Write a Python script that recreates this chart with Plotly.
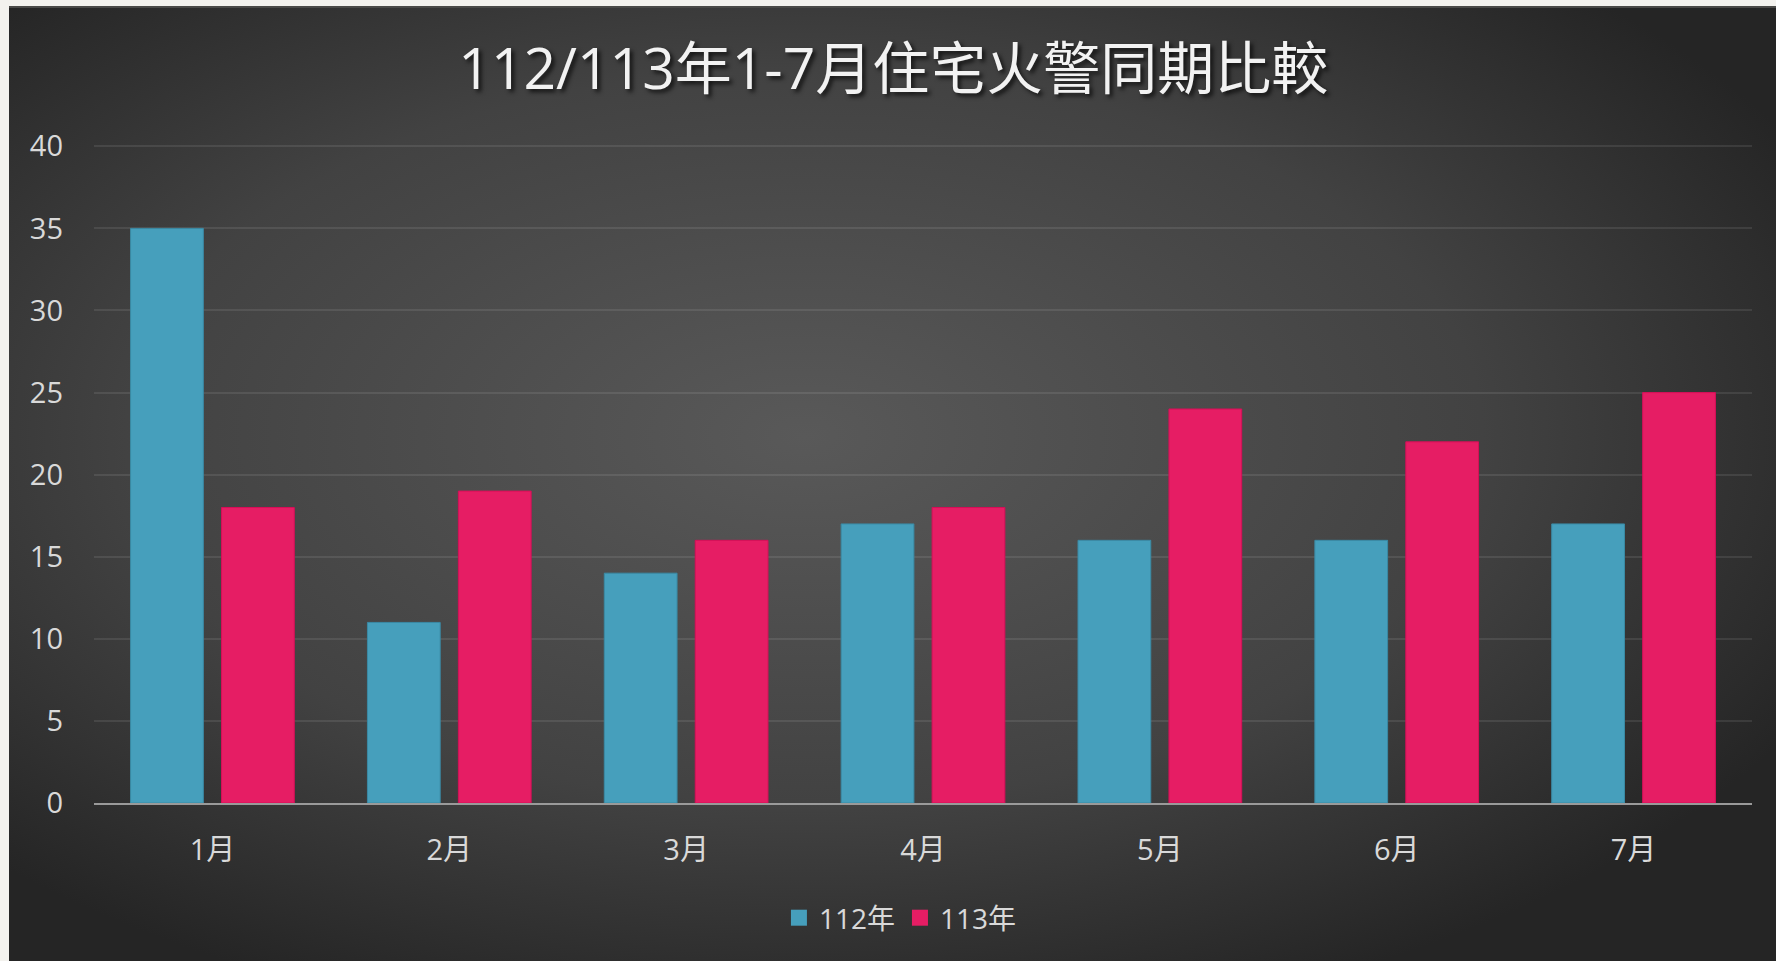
import base64
import plotly.graph_objects as go

# ---- data ----
months = ["1月", "2月", "3月", "4月", "5月", "6月", "7月"]
series_names = ["112年", "113年"]
fires_112 = [35, 11, 14, 17, 16, 16, 17]
fires_113 = [18, 19, 16, 18, 24, 22, 25]
y_ticks = [0, 5, 10, 15, 20, 25, 30, 35, 40]
title_text = "112/113年1-7月住宅火警同期比較"

# ---- styling ----
W, H = 1776, 961
ML, MR, MT, MB = 94, 24, 145, 158
plot_w = W - ML - MR
plot_h = H - MT - MB
FONT = "Open Sans, Noto Sans CJK TC, sans-serif"
TXT = "#d9d9d9"
BLUE, PINK = "#469fbc", "#e61d64"

# radial gradient background panel as an SVG image
svg = (
    '<svg xmlns="http://www.w3.org/2000/svg" width="1767" height="955" '
    'viewBox="0 0 1767 955" preserveAspectRatio="none">'
    '<defs><radialGradient id="g" cx="0.45" cy="0.45" r="0.64">'
    '<stop offset="0" stop-color="#595959"/>'
    '<stop offset="0.6" stop-color="#424242"/>'
    '<stop offset="1" stop-color="#252525"/>'
    '</radialGradient></defs>'
    '<rect x="0" y="0" width="1767" height="955" fill="url(#g)"/>'
    '<rect x="0" y="0" width="1767" height="2" fill="#4a4a48"/>'
    '</svg>'
)
svg_uri = "data:image/svg+xml;base64," + base64.b64encode(svg.encode()).decode()

panel_left, panel_top = 9, 6
img_x = (panel_left - ML) / plot_w
img_sizex = (W - panel_left) / plot_w
img_y = (H - MB - panel_top) / plot_h
img_sizey = (H - panel_top) / plot_h

fig = go.Figure()
fig.add_trace(go.Bar(
    x=months, y=fires_112, name=series_names[0], showlegend=False,
    marker=dict(color=BLUE, line=dict(color="#3a8aa5", width=1)),
))
fig.add_trace(go.Bar(
    x=months, y=fires_113, name=series_names[1], showlegend=False,
    marker=dict(color=PINK, line=dict(color="#d80e58", width=1)),
))
# legend entries with larger square swatches
for nm, col in zip(series_names, [BLUE, PINK]):
    fig.add_trace(go.Scatter(
        x=[None], y=[None], mode="markers", name=nm,
        marker=dict(symbol="square", size=16, color=col),
        hoverinfo="skip",
    ))

fig.update_layout(
    width=W, height=H,
    margin=dict(l=ML, r=MR, t=MT, b=MB, pad=0),
    paper_bgcolor="#f3f2ee",
    plot_bgcolor="rgba(0,0,0,0)",
    barmode="group",
    bargap=0.232,
    bargroupgap=0.2,
    font=dict(family=FONT, color=TXT, size=28),
    title=dict(
        text=title_text,
        x=0.503, xref="container", xanchor="center",
        y=1 - 69 / H, yref="container", yanchor="middle",
        font=dict(family=FONT, size=57, color="#f2f2f2",
                  shadow="3px 3px 4px rgba(0,0,0,0.7)"),
    ),
    legend=dict(
        orientation="h",
        x=0.507, xref="container", xanchor="center",
        y=1 - 918 / H, yref="container", yanchor="middle",
        font=dict(family=FONT, size=28, color=TXT),
        bgcolor="rgba(0,0,0,0)",
        itemwidth=30,
        itemsizing="trace",
    ),
    images=[dict(
        source=svg_uri, xref="paper", yref="paper",
        x=img_x, y=img_y, sizex=img_sizex, sizey=img_sizey,
        xanchor="left", yanchor="top", sizing="stretch", layer="below",
    )],
    showlegend=True,
)

fig.update_yaxes(
    range=[0, 40.08], tickvals=y_ticks, ticktext=[str(v) for v in y_ticks],
    showgrid=True, gridcolor="rgba(255,255,255,0.09)", gridwidth=1.5,
    zeroline=False, showline=False,
    tickfont=dict(family=FONT, size=29, color=TXT),
    ticklabelstandoff=30,
)
fig.update_xaxes(
    showgrid=False, showline=True, linecolor="#9a9a9a", linewidth=2,
    tickfont=dict(family=FONT, size=29, color=TXT),
    ticklabelstandoff=20,
)

fig.write_html(
    "out.html",
    config={"displayModeBar": False},
    post_script="document.body.style.margin='0';document.body.style.background='#f3f2ee';",
)
